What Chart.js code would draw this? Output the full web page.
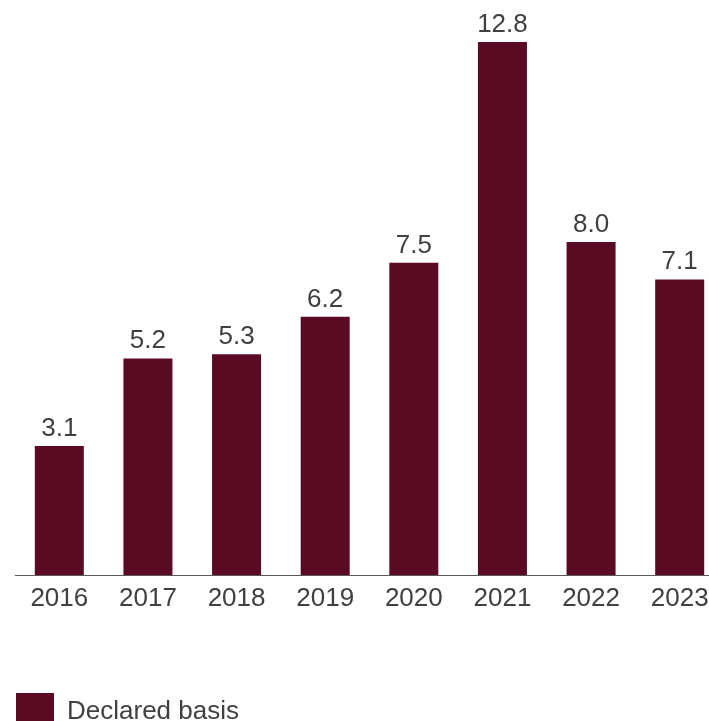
<!DOCTYPE html>
<html>
<head>
<meta charset="utf-8">
<title>Declared basis</title>
<script src="https://cdn.jsdelivr.net/npm/chart.js@4.4.1/dist/chart.umd.min.js"></script>
<style>
  html, body { margin: 0; padding: 0; background: #ffffff; overflow: hidden; }
  #chartjs { display: block; }
</style>
</head>
<body>
<canvas id="chartjs" width="730" height="741"></canvas>
<script>
const years = ['2016', '2017', '2018', '2019', '2020', '2021', '2022', '2023'];
const declaredBasis = [3.1, 5.2, 5.3, 6.2, 7.5, 12.8, 8.0, 7.1];
const seriesLabel = 'Declared basis';

const barColor = '#5a0a22';
const textColor = '#404040';
const fontFamily = '"Liberation Sans", Arial, sans-serif';

// value written above each bar, placed from the bar element itself
const valueLabels = {
    id: 'valueLabels',
    afterDatasetsDraw(chart) {
        const c = chart.ctx;
        const meta = chart.getDatasetMeta(0);
        c.save();
        c.font = '26px ' + fontFamily;
        c.fillStyle = textColor;
        c.textAlign = 'center';
        c.textBaseline = 'alphabetic';
        meta.data.forEach((bar, i) => {
            const value = chart.data.datasets[0].data[i];
            c.fillText(value.toFixed(1), bar.x, bar.y - 10);
        });
        c.restore();
    }
};

const ctx = document.getElementById('chartjs');

const chart = new Chart(ctx, {
    type: 'bar',
    data: {
        labels: years,
        datasets: [{
            label: seriesLabel,
            data: declaredBasis,
            backgroundColor: barColor,
            borderWidth: 0,
            categoryPercentage: 1,
            barPercentage: 0.553
        }]
    },
    options: {
        responsive: false,
        animation: false,
        devicePixelRatio: 1,
        layout: {
            padding: { left: 15, right: 6, top: 0, bottom: 0 }
        },
        scales: {
            x: {
                grid: { display: false, drawTicks: false },
                border: { display: true, color: '#595959', width: 1 },
                ticks: {
                    color: textColor,
                    padding: 8,
                    font: { family: fontFamily, size: 26 },
                    maxRotation: 0,
                    autoSkip: false
                },
                afterFit(scale) {
                    // leave room between the year labels and the legend
                    scale.height = 117;
                }
            },
            y: {
                display: false,
                min: 0,
                max: 13.81
            }
        },
        plugins: {
            tooltip: { enabled: false },
            legend: {
                position: 'bottom',
                align: 'start',
                labels: {
                    boxWidth: 38,
                    boxHeight: 38,
                    padding: 1,
                    color: textColor,
                    font: { family: fontFamily, size: 26 }
                }
            }
        }
    },
    plugins: [valueLabels]
});
</script>
</body>
</html>
